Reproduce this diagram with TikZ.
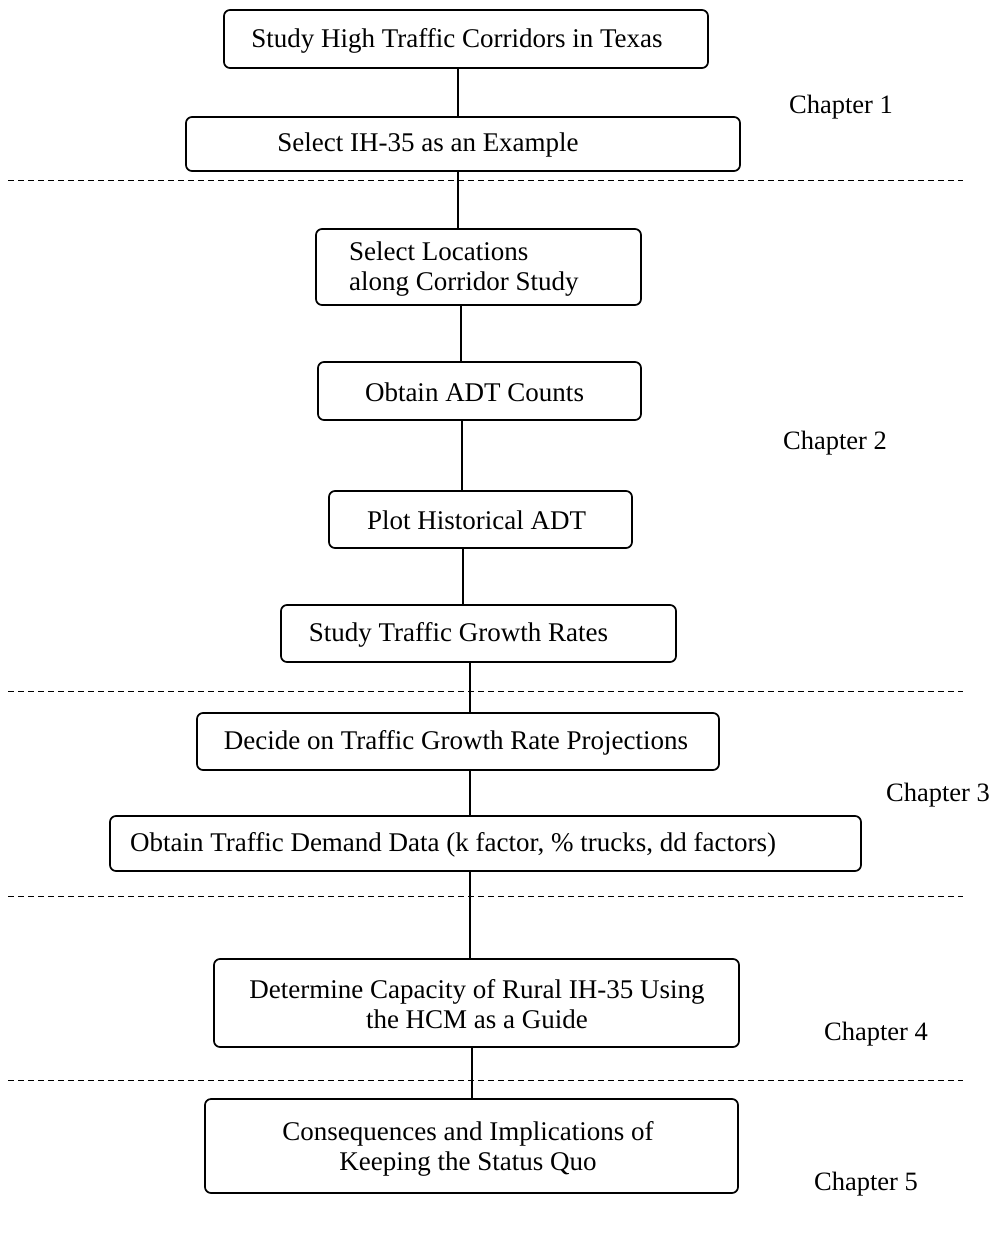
\documentclass[tikz,border=0pt]{standalone}
\usepackage{fontspec}
\setmainfont{Liberation Serif}
\begin{document}
\begin{tikzpicture}[x=1pt,y=-1pt,
  boxnode/.style={draw, line width=1.7pt, rounded corners=6pt, inner sep=0pt},
  txt/.style={font=\fontsize{27}{30}\selectfont, inner sep=0pt, align=center},
  chap/.style={font=\fontsize{26.5}{31}\selectfont, inner sep=0pt},
  conn/.style={line width=1.4pt},
  sep/.style={line width=1pt, dash pattern=on 6pt off 4pt}]
\useasboundingbox (0,0) rectangle (998,1250);
% boxes
\node[boxnode, minimum width=484pt, minimum height=58pt] (b1) at (466,39) {};
\node[boxnode, minimum width=554pt, minimum height=54pt] (b2) at (463,144) {};
\node[boxnode, minimum width=325pt, minimum height=76pt] (b3) at (478.5,267) {};
\node[boxnode, minimum width=323pt, minimum height=58pt] (b4) at (479.5,391) {};
\node[boxnode, minimum width=303pt, minimum height=57pt] (b5) at (480.5,519.5) {};
\node[boxnode, minimum width=395pt, minimum height=57pt] (b6) at (478.5,633.5) {};
\node[boxnode, minimum width=522pt, minimum height=57pt] (b7) at (458,741.5) {};
\node[boxnode, minimum width=751pt, minimum height=55pt] (b8) at (485.5,843.5) {};
\node[boxnode, minimum width=525pt, minimum height=88pt] (b9) at (476.5,1003) {};
\node[boxnode, minimum width=533pt, minimum height=94pt] (b10) at (471.5,1146) {};
% box texts
\node[txt] (t1) at (457,41) {Study High Traffic Corridors in Texas};
\node[txt] (t2) at (428,145) {Select IH-35 as an Example};
\node[txt, anchor=west, align=left] (t3) at (349,269) {Select Locations\\along Corridor Study};
\node[txt] (t4) at (474.5,392) {Obtain ADT Counts};
\node[txt] (t5) at (476.5,520.5) {Plot Historical ADT};
\node[txt] (t6) at (458.5,634.5) {Study Traffic Growth Rates};
\node[txt] (t7) at (456,742.5) {Decide on Traffic Growth Rate Projections};
\node[txt] (t8) at (453,844.5) {Obtain Traffic Demand Data (k factor, \% trucks, dd factors)};
\node[txt] (t9) at (477,1004) {Determine Capacity of Rural IH-35 Using\\the HCM as a Guide};
\node[txt] (t10) at (468,1149) {Consequences and Implications of\\Keeping the Status Quo};
% chapter labels
\node[chap] (ch1) at (841,107) {Chapter 1};
\node[chap] (ch2) at (835,443) {Chapter 2};
\node[chap] (ch3) at (938,795) {Chapter 3};
\node[chap] (ch4) at (876,1034) {Chapter 4};
\node[chap] (ch5) at (866,1184) {Chapter 5};
% separators
\coordinate (s1a) at (8,180); \coordinate (s1b) at (963,180);
\coordinate (s2a) at (8,691); \coordinate (s2b) at (963,691);
\coordinate (s3a) at (8,896); \coordinate (s3b) at (963,896);
\coordinate (s4a) at (8,1080); \coordinate (s4b) at (963,1080);
\draw[sep] (s1a) -- (s1b);
\draw[sep] (s2a) -- (s2b);
\draw[sep] (s3a) -- (s3b);
\draw[sep] (s4a) -- (s4b);
% connectors
\draw[conn] (b1.south -| 458,0) -- (b2.north -| 458,0);
\draw[conn] (b2.south -| 458,0) -- (b3.north -| 458,0);
\draw[conn] (b3.south -| 461,0) -- (b4.north -| 461,0);
\draw[conn] (b4.south -| 462,0) -- (b5.north -| 462,0);
\draw[conn] (b5.south -| 463,0) -- (b6.north -| 463,0);
\draw[conn] (b6.south -| 470,0) -- (b7.north -| 470,0);
\draw[conn] (b7.south -| 470,0) -- (b8.north -| 470,0);
\draw[conn] (b8.south -| 470,0) -- (b9.north -| 470,0);
\draw[conn] (b9.south -| 472,0) -- (b10.north -| 472,0);
\end{tikzpicture}
\end{document}
